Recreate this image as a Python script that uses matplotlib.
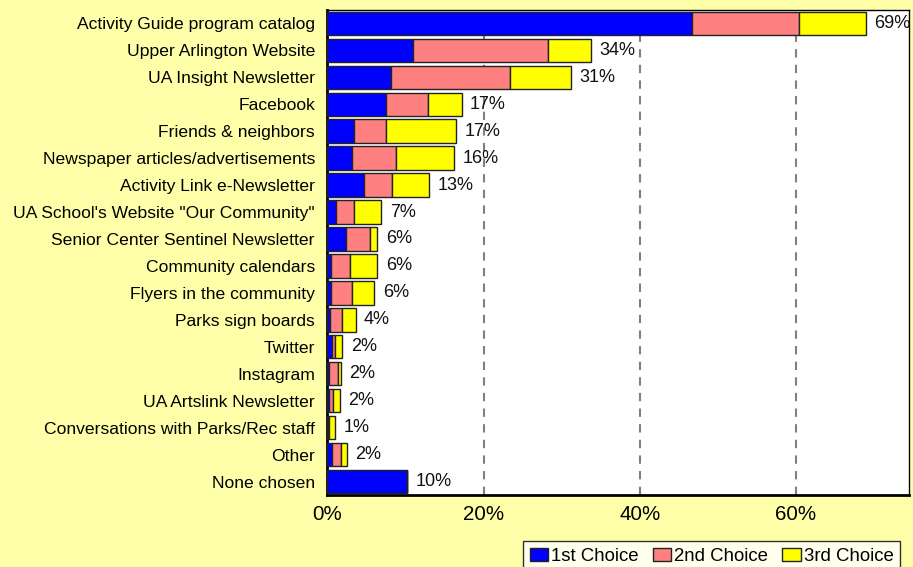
import numpy as np
import matplotlib.pyplot as plt

plt.rcParams['font.family'] = ['Liberation Sans', 'DejaVu Sans']

# Data (percent of respondents)
categories = [
    'Activity Guide program catalog',
    'Upper Arlington Website',
    'UA Insight Newsletter',
    'Facebook',
    'Friends & neighbors',
    'Newspaper articles/advertisements',
    'Activity Link e-Newsletter',
    'UA School\'s Website "Our Community"',
    'Senior Center Sentinel Newsletter',
    'Community calendars',
    'Flyers in the community',
    'Parks sign boards',
    'Twitter',
    'Instagram',
    'UA Artslink Newsletter',
    'Conversations with Parks/Rec staff',
    'Other',
    'None chosen',
]
first_choice = [46.7, 10.9, 8.1, 7.5, 3.4, 3.1, 4.7, 1.1, 2.4, 0.5, 0.5, 0.3, 0.6, 0.2, 0.2, 0.1, 0.6, 10.2]
second_choice = [13.7, 17.3, 15.3, 5.4, 4.1, 5.7, 3.6, 2.3, 3.1, 2.4, 2.7, 1.5, 0.4, 1.2, 0.5, 0.1, 1.1, 0.0]
third_choice = [8.6, 5.5, 7.8, 4.3, 9.0, 7.4, 4.7, 3.5, 0.9, 3.5, 2.8, 1.8, 0.9, 0.3, 0.9, 0.8, 0.8, 0.0]
total_labels = ['69%', '34%', '31%', '17%', '17%', '16%', '13%', '7%', '6%', '6%', '6%',
                '4%', '2%', '2%', '2%', '1%', '2%', '10%']
series_names = ['1st Choice', '2nd Choice', '3rd Choice']
xticks = [0, 20, 40, 60]

bg = '#FFFFAA'
colors = ['#0000FF', '#FF8080', '#FFFF00']

fig = plt.figure(figsize=(9.13, 5.67), dpi=100, facecolor=bg)
ax = fig.add_axes([0.3587, 0.127, 0.637, 0.8555])
ax.set_facecolor('white')

y = np.arange(len(categories))
left = np.zeros(len(categories))
for vals, col, name in zip([first_choice, second_choice, third_choice], colors, series_names):
    vals = np.array(vals)
    ax.barh(y, vals, left=left, height=0.87, color=col, edgecolor='#222222',
            linewidth=1.0, label=name, zorder=3)
    left = left + vals

# total labels to the right of each stacked bar
for yi, tot, lab in zip(y, left, total_labels):
    ax.annotate(lab, (tot, yi), xytext=(6, 0), textcoords='offset points',
                va='center', ha='left', fontsize=13, color='#111111', zorder=4)

ax.set_xlim(0, 74.5)
ax.set_ylim(len(categories) - 0.5, -0.5)
ax.set_xticks(xticks)
ax.set_xticklabels([f'{t}%' for t in xticks], fontsize=14.8)
ax.set_yticks(y)
ax.set_yticklabels(categories, fontsize=12.6)
ax.tick_params(axis='both', length=0)
ax.tick_params(axis='y', pad=9)
ax.tick_params(axis='x', pad=7)

for xv in xticks[1:]:
    ax.axvline(xv, color='#808080', linewidth=1.5, linestyle=(0, (4, 3.5)), zorder=1)

for side in ['top', 'right']:
    ax.spines[side].set_linewidth(1.0)
for side in ['left', 'bottom']:
    ax.spines[side].set_linewidth(2.0)

leg = fig.legend(loc='upper right', bbox_to_anchor=(900 / 913, 1 - 541 / 567),
                 ncol=3, fontsize=13.4, frameon=True, fancybox=False,
                 handlelength=1.0, handleheight=0.7, handletextpad=0.15,
                 columnspacing=0.75, borderpad=0.35, borderaxespad=0)
leg.get_frame().set_edgecolor('black')
leg.get_frame().set_linewidth(1.0)
leg.get_frame().set_facecolor('white')

fig.savefig('out.png', dpi=100, facecolor=bg)
